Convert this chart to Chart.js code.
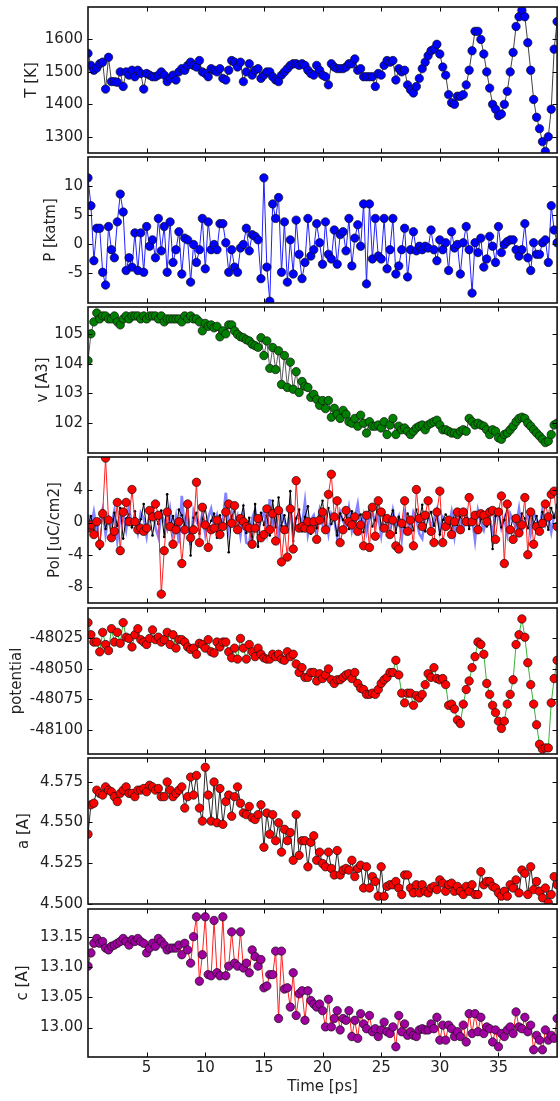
<!DOCTYPE html>
<html><head><meta charset="utf-8">
<script src="https://cdn.jsdelivr.net/npm/chart.js@4"></script>
<style>
html,body{margin:0;padding:0;background:#fff;overflow:hidden;}
#wrap{position:relative;width:560px;height:1101px;overflow:hidden;background:#fff;}
#wrap canvas{position:absolute;left:0;}
</style></head><body><div id="wrap"></div>
<script>
// ---------------- data ----------------
const time = [0,0.25,0.5,0.75,1,1.25,1.5,1.75,2,2.25,2.5,2.75,3,3.25,3.5,3.75,4,4.25,4.5,4.75,
5,5.25,5.5,5.75,6,6.25,6.5,6.75,7,7.25,7.5,7.75,8,8.25,8.5,8.75,9,9.25,9.5,9.75,
10,10.25,10.5,10.75,11,11.25,11.5,11.75,12,12.25,12.5,12.75,13,13.25,13.5,13.75,14,14.25,14.5,14.75,
15,15.25,15.5,15.75,16,16.25,16.5,16.75,17,17.25,17.5,17.75,18,18.25,18.5,18.75,19,19.25,19.5,19.75,
20,20.25,20.5,20.75,21,21.25,21.5,21.75,22,22.25,22.5,22.75,23,23.25,23.5,23.75,24,24.25,24.5,24.75,
25,25.25,25.5,25.75,26,26.25,26.5,26.75,27,27.25,27.5,27.75,28,28.25,28.5,28.75,29,29.25,29.5,29.75,
30,30.25,30.5,30.75,31,31.25,31.5,31.75,32,32.25,32.5,32.75,33,33.25,33.5,33.75,34,34.25,34.5,34.75,
35,35.25,35.5,35.75,36,36.25,36.5,36.75,37,37.25,37.5,37.75,38,38.25,38.5,38.75,39,39.25,39.5,39.75,
40];

const temperature = [1557,1520,1505,1512,1525,1530,1447,1545,1470,1470,
1468,1500,1455,1500,1490,1505,1485,1505,1495,1447,
1495,1490,1485,1485,1490,1500,1490,1470,1480,1490,
1475,1500,1510,1505,1520,1530,1520,1515,1535,1500,
1495,1485,1510,1505,1500,1510,1480,1475,1505,1535,
1530,1515,1530,1470,1500,1525,1490,1505,1510,1480,
1490,1500,1500,1485,1475,1470,1490,1500,1510,1520,
1525,1525,1520,1525,1520,1505,1495,1490,1520,1505,
1490,1485,1460,1525,1515,1510,1510,1510,1515,1525,
1525,1540,1505,1510,1485,1485,1485,1485,1455,1495,
1490,1520,1535,1530,1535,1475,1510,1500,1505,1460,
1445,1435,1455,1480,1510,1530,1550,1565,1570,1585,
1555,1515,1490,1430,1405,1400,1425,1425,1430,1460,
1505,1565,1625,1625,1600,1555,1500,1450,1400,1385,
1365,1370,1400,1440,1500,1560,1640,1670,1690,1670,
1590,1505,1415,1360,1325,1285,1255,1300,1385,1570,1655];

const pressure = [11.4,6.6,-2.9,2.7,2.7,-4.9,-7.1,3.0,-1.0,-2.4,
3.8,8.6,5.5,-4.6,-2.4,-4.0,1.9,-4.6,1.9,-4.9,
3.0,-0.4,0.7,-2.4,4.4,-1.2,3.0,-4.9,3.8,-3.2,
-1.0,2.1,-5.2,1.0,0.7,-6.6,-0.1,-3.2,-1.0,4.4,
-4.3,3.8,-1.0,-0.1,-1.0,3.5,3.5,0.2,-4.9,-1.0,
-4.0,-4.9,-0.7,-0.1,2.7,-1.2,1.6,1.3,0.7,-6.0,
11.4,-4.0,-9.9,6.9,4.4,8.0,-4.9,3.8,-6.6,0.7,
-5.2,4.1,-1.8,-6.0,-3.2,4.4,-2.1,-1.0,3.5,0.2,
-3.5,3.8,-1.8,-2.6,2.4,-3.5,1.6,2.1,-1.2,4.4,
-3.8,1.0,3.3,-0.4,6.9,-6.9,6.9,-2.6,4.4,-2.1,
-2.6,4.4,-4.3,-1.0,4.4,-5.2,-3.8,-1.0,2.7,-5.7,
-1.0,2.1,-1.2,-0.4,-1.0,-0.4,-0.7,2.4,-1.0,-2.9,
0.7,-1.0,0.2,-4.6,2.1,-0.7,-0.1,-5.2,0.2,3.0,
-1.0,-8.5,0.2,-1.5,1.0,-4.0,-2.6,1.3,-0.4,-3.2,
3.0,-1.5,-0.1,0.4,0.7,0.7,-1.0,-2.1,-1.0,3.5,
-2.4,-4.6,0.2,-1.8,-1.8,0.2,0.7,-3.2,6.6,2.4,0.2];

const volume = [104.1,105.0,105.4,105.7,105.5,105.6,105.6,105.5,105.5,105.6,
105.4,105.3,105.5,105.6,105.5,105.6,105.6,105.6,105.5,105.6,
105.5,105.6,105.6,105.6,105.5,105.6,105.4,105.5,105.5,105.5,
105.5,105.5,105.4,105.6,105.5,105.6,105.5,105.5,105.4,105.1,
105.35,105.25,105.3,105.2,105.25,104.9,105.1,105.0,105.3,105.3,
105.1,104.98,104.9,104.87,104.8,104.76,104.65,104.6,104.55,104.87,
104.27,104.76,103.84,104.54,103.8,104.43,103.3,104.27,103.2,104.05,
103.14,103.73,103.03,103.4,103.24,103.2,102.87,102.97,102.8,102.6,
102.76,102.49,102.76,102.2,102.5,102.3,102.16,102.43,102.3,102.05,
102.0,102.16,101.9,102.27,102.0,101.67,102.05,101.9,101.9,101.94,
101.84,102.05,101.62,101.94,102.16,101.62,101.9,101.78,101.84,101.73,
101.62,101.73,101.84,101.9,101.94,101.78,101.94,102.0,102.05,102.1,
101.94,101.78,101.78,101.73,101.67,101.67,101.62,101.73,101.78,101.73,
102.16,102.05,101.94,102.0,101.94,101.9,101.78,101.62,101.78,101.73,
101.51,101.46,101.62,101.67,101.78,101.9,102.05,102.16,102.2,102.16,
102.0,101.9,101.78,101.67,101.57,101.46,101.35,101.4,101.62,101.94,102.0];

const polX = [1.0,-0.6,1.3,-1.1,0.4,1.7,-1.5,0.7,-0.3,1.5,
-2.2,0.6,1.0,-0.9,1.8,-0.4,0.3,-1.3,1.2,0.5,
-1.7,0.9,1.9,-0.6,-1.8,1.1,0.2,-0.8,1.6,-1.4,
0.7,-2.6,3.3,-1.0,0.8,-2.8,1.4,0.2,-0.7,1.1,
-1.5,0.6,1.7,-0.4,0.9,-1.2,0.4,3.7,-0.8,1.3,
-0.3,0.8,-1.6,1.2,-2.5,-2.7,0.5,1.6,-0.9,0.3,
1.4,-1.1,2.9,-0.5,0.7,-1.8,1.2,0.1,-0.6,1.7,
-1.3,0.6,1.0,-0.4,2.6,-1.5,0.3,0.9,-0.8,1.5,
-0.2,0.7,-1.4,1.1,0.4,-1.9,1.3,0.2,-0.5,1.8,
-1.0,0.6,2.3,-0.7,0.9,-1.2,0.5,1.4,-0.3,0.8,
-1.6,1.0,0.3,-0.8,1.5,-0.4,0.7,-2.1,1.2,0.2,
-0.9,1.3,0.5,-1.4,-2.0,0.8,1.1,-0.6,0.4,1.6,
-1.1,0.7,0.2,-0.5,1.3,-1.7,0.9,0.3,-0.8,1.2,
-0.4,0.6,-2.2,1.5,0.1,-0.9,1.0,0.4,-1.3,0.8,
1.4,-0.7,0.5,-1.5,1.1,0.2,-0.6,1.7,-1.0,0.3,
0.9,-1.4,1.2,0.4,-0.8,1.6,-0.3,0.7,-1.2,1.0,0.5];

const polY = [-0.5,0.8,-1.2,0.3,-3.3,1.5,-0.8,0.6,-1.5,1.2,
-0.4,1.8,-2.0,0.5,1.0,-0.6,1.4,-1.0,0.4,2.3,
-0.9,1.1,-1.6,0.7,-0.2,1.5,-1.8,3.5,-0.5,0.8,
-1.2,1.6,0.9,-0.3,2.6,-4.1,0.6,1.2,-1.4,0.4,
1.8,-0.7,0.2,1.1,-1.9,0.9,-0.4,1.3,-3.7,0.8,
1.4,-0.6,0.3,2.1,-1.3,0.6,-2.4,2.3,-3.0,1.2,
-0.3,0.9,-1.6,2.7,-0.6,3.1,-0.4,0.9,-1.2,3.9,
-2.3,0.5,1.6,-1.1,0.7,2.0,-1.4,0.2,-0.7,1.3,
2.7,-0.9,1.8,-0.2,0.5,-1.6,1.1,0.3,0.9,-0.8,
1.4,-0.4,0.6,1.0,-1.2,0.8,1.7,-0.5,0.3,2.9,
-0.6,1.2,-0.9,0.4,1.5,-1.3,0.7,0.1,-0.6,1.1,
0.5,-1.0,1.6,0.2,2.2,-1.1,0.6,1.3,-0.4,0.9,
-1.5,0.3,1.0,0.5,-0.9,1.2,-0.3,0.7,0.1,1.4,
-0.8,0.6,1.1,-1.2,0.4,0.9,-0.5,1.3,-3.3,0.8,
1.5,-0.6,0.3,1.9,-1.0,0.7,0.2,-1.4,1.1,0.5,
-0.7,1.6,-0.2,0.8,-1.1,1.3,0.4,-0.9,1.8,0.6,2.2];

const polZ = [-0.7,-0.3,-1.5,0.1,-2.7,1.1,8.0,0.3,-1.9,-1.1,
2.5,-3.5,1.3,2.5,0.1,4.1,0.1,-0.9,-0.7,-1.1,
-0.7,1.5,0.7,2.3,0.9,-8.9,-3.5,1.3,-0.5,-2.7,
-0.9,0.1,-5.1,-0.9,2.3,-1.9,-0.9,5.0,-2.5,1.9,
-0.3,-3.1,-0.9,-0.7,0.3,-1.5,-0.5,1.3,2.3,-0.1,
2.1,-0.9,0.5,0.1,-0.5,-0.7,-2.7,-0.7,0.5,-1.9,
-1.5,1.7,-0.9,1.1,-2.3,1.5,-4.9,-0.9,-4.3,1.7,
-3.3,5.2,-0.7,-0.5,-0.7,0.1,-0.9,0.1,-2.1,0.3,
1.3,-0.9,3.5,6.0,0.7,2.7,-2.5,-0.9,1.5,0.1,
-0.3,0.7,-1.1,-0.3,-2.9,0.9,-3.1,1.9,-1.7,2.7,
1.3,-0.7,0.5,-1.5,0.3,-2.9,-3.3,-0.1,2.7,-1.1,
0.3,-2.9,4.1,0.5,-0.5,0.9,2.7,-1.1,-2.5,1.3,
3.9,-2.5,-0.5,0.3,-1.5,0.1,1.3,-0.9,1.3,0.1,
3.1,0.1,0.9,-0.9,1.1,0.9,0.1,1.3,1.5,-2.1,
1.3,3.3,-5.1,2.3,-0.9,-2.1,0.5,-1.3,-0.3,3.1,
-4.0,1.3,-2.7,-0.5,-1.1,-0.1,2.3,0.7,3.5,3.9,-0.5];

const potential = [-48012,-48022,-48028,-48028,-48036,-48020,-48030,-48035,-48017,-48028,
-48020,-48029,-48012,-48024,-48025,-48032,-48022,-48017,-48026,-48028,
-48030,-48025,-48018,-48026,-48024,-48028,-48026,-48020,-48030,-48022,
-48033,-48026,-48026,-48028,-48032,-48034,-48033,-48038,-48029,-48030,
-48033,-48026,-48036,-48037,-48028,-48032,-48028,-48028,-48036,-48041,
-48033,-48042,-48025,-48033,-48042,-48030,-48036,-48040,-48033,-48038,
-48041,-48042,-48042,-48038,-48040,-48038,-48042,-48043,-48036,-48040,
-48038,-48046,-48053,-48049,-48057,-48057,-48053,-48053,-48060,-48054,
-48058,-48055,-48050,-48059,-48062,-48059,-48059,-48057,-48055,-48054,
-48058,-48053,-48062,-48066,-48067,-48071,-48071,-48070,-48071,-48067,
-48062,-48059,-48057,-48053,-48053,-48043,-48055,-48070,-48078,-48070,
-48070,-48080,-48072,-48074,-48071,-48063,-48054,-48057,-48049,-48058,
-48059,-48058,-48063,-48080,-48079,-48083,-48092,-48095,-48079,-48067,
-48060,-48049,-48040,-48028,-48030,-48038,-48062,-48071,-48080,-48086,
-48093,-48099,-48093,-48079,-48071,-48059,-48030,-48022,-48009,-48024,
-48045,-48063,-48079,-48096,-48112,-48116,-48115,-48115,-48078,-48058,-48043];

const latticeA = [4.5428,4.5608,4.5618,4.5698,4.5678,4.5668,4.5718,4.5698,4.5688,4.5658,
4.5628,4.5678,4.5698,4.5718,4.5678,4.5678,4.5658,4.5698,4.5698,4.5708,
4.5688,4.5728,4.5718,4.5698,4.5708,4.5658,4.5658,4.5748,4.5698,4.5658,
4.5678,4.5698,4.5718,4.5588,4.5658,4.5778,4.5668,4.5788,4.5588,4.5508,
4.5838,4.5668,4.5508,4.5748,4.5498,4.5708,4.5488,4.5628,4.5668,4.5538,
4.5658,4.5718,4.5618,4.5558,4.5548,4.5598,4.5528,4.5518,4.5548,4.5608,
4.5348,4.5558,4.5428,4.5548,4.5388,4.5498,4.5318,4.5458,4.5388,4.5438,
4.5268,4.5548,4.5298,4.5388,4.5388,4.5228,4.5378,4.5418,4.5268,4.5318,
4.5248,4.5228,4.5318,4.5218,4.5178,4.5328,4.5178,4.5208,4.5218,4.5208,
4.5268,4.5168,4.5218,4.5238,4.5098,4.5228,4.5098,4.5168,4.5138,4.5048,
4.5228,4.5048,4.5108,4.5118,4.5118,4.5138,4.5098,4.5058,4.5178,4.5178,
4.5098,4.5068,4.5118,4.5068,4.5118,4.5078,4.5068,4.5098,4.5108,4.5088,
4.5148,4.5128,4.5078,4.5118,4.5128,4.5078,4.5108,4.5078,4.5058,4.5108,
4.5078,4.5118,4.5058,4.5058,4.5198,4.5118,4.5138,4.5138,4.5108,4.5098,
4.5068,4.5048,4.5078,4.5048,4.5118,4.5098,4.5148,4.5068,4.5208,4.5188,
4.5058,4.5228,4.5088,4.5138,4.5078,4.5038,4.5098,4.5008,4.5058,4.5168,4.5118];

const latticeC = [13.102,13.124,13.140,13.148,13.140,13.143,13.132,13.129,13.135,13.137,
13.140,13.143,13.148,13.143,13.137,13.146,13.143,13.148,13.143,13.140,
13.124,13.132,13.140,13.135,13.148,13.143,13.137,13.129,13.132,13.132,
13.132,13.137,13.121,13.140,13.129,13.107,13.151,13.184,13.077,13.121,
13.184,13.088,13.086,13.178,13.091,13.086,13.184,13.086,13.102,13.159,
13.107,13.102,13.159,13.099,13.107,13.091,13.129,13.118,13.102,13.113,
13.066,13.069,13.088,13.088,13.127,13.015,13.127,13.064,13.066,13.034,
13.091,13.020,13.056,13.061,13.012,13.061,13.045,13.039,13.034,13.039,
13.028,13.001,13.047,13.001,13.015,13.028,12.996,13.015,13.012,13.028,
12.985,13.012,12.982,13.023,13.006,12.998,13.020,12.993,12.998,12.985,
12.996,13.009,12.993,12.990,13.001,12.968,13.020,12.993,13.006,12.987,
12.993,12.987,12.985,12.996,12.998,12.996,12.996,13.006,12.998,13.017,
12.979,13.004,12.979,13.004,12.998,12.985,12.993,12.985,13.004,12.976,
13.023,12.990,13.023,12.993,13.017,12.990,13.001,12.998,12.976,12.996,
12.968,12.990,12.985,12.996,13.001,12.990,13.026,13.001,12.998,13.017,
12.993,13.004,12.963,12.987,12.979,12.963,12.996,12.979,12.987,12.982,13.015];

// tick values
const timeTicks = [5,10,15,20,25,30,35];
const tempTicks = [1300,1400,1500,1600];
const presTicks = [-5,0,5,10];
const volTicks = [102,103,104,105];
const polTicks = [-8,-4,0,4];
const potTicks = [-48100,-48075,-48050,-48025];
const aTicks = [4.500,4.525,4.550,4.575];
const cTicks = [13.00,13.05,13.10,13.15];

// ---------------- rendering ----------------
Chart.defaults.font.family = 'DejaVu Sans';
const FONT = {family:'DejaVu Sans', size:15};
const TXT = '#222';
const CW = 562;

function pts(vals){ const out=[]; for(let i=0;i<vals.length && i<time.length;i++) out.push({x:time[i], y:vals[i]}); return out; }

function markerSet(vals, lineColor, lineW, fillColor, order){
  return {data:pts(vals), borderColor:lineColor, borderWidth:lineW, pointRadius:4.2,
    pointBackgroundColor:fillColor, pointBorderColor:'#111', pointBorderWidth:0.7,
    pointHoverRadius:4.2, tension:0, order:order||0};
}

const panels = [
  {top:5, title:'T [K]', pad:23, min:1250, max:1700, ticks:tempTicks, fmt:v=>String(v),
   sets:[markerSet(temperature,'#111',0.8,'#0000ff')]},
  {top:155, title:'P [katm]', pad:42, min:-10.2, max:15, ticks:presTicks, fmt:v=>String(v),
   sets:[markerSet(pressure,'#2020ff',1,'#0000ff')]},
  {top:305, title:'v [A3]', pad:34, min:101.0, max:105.9, ticks:volTicks, fmt:v=>String(v),
   sets:[markerSet(volume,'#333',0.8,'#008000')]},
  {top:455, title:'Pol [uC/cm2]', pad:46, min:-10, max:8.14, ticks:polTicks, fmt:v=>String(v),
   sets:[markerSet(polZ,'#ff2020',1,'#ff0000',0),
         {data:pts(polY), borderColor:'#000', borderWidth:1, pointRadius:1.3, pointBackgroundColor:'#000', pointBorderWidth:0, order:1},
         {data:pts(polX), borderColor:'rgba(30,30,255,0.55)', borderWidth:2.6, pointRadius:0, order:2}]},
  {top:606, title:'potential', pad:8.5, min:-48120, max:-48000, ticks:potTicks, fmt:v=>String(v),
   sets:[markerSet(potential,'#22aa22',0.9,'#ff0000')]},
  {top:756, title:'a [A]', pad:15, min:4.5, max:4.5895, ticks:aTicks, fmt:v=>v.toFixed(3),
   sets:[markerSet(latticeA,'#111',0.9,'#ff0000')]},
  {top:907, title:'c [A]', pad:14, min:12.951, max:13.197, ticks:cTicks, fmt:v=>v.toFixed(2),
   sets:[markerSet(latticeC,'#ff2020',1,'#a000a0')]}
];

const wrap = document.getElementById('wrap');
const EXTRA = 12, PH = 150;

panels.forEach((p, idx) => {
  const last = idx === panels.length - 1;
  const cv = document.createElement('canvas');
  const top = p.top - EXTRA;
  const h = last ? (1101 - top) : (PH + 2*EXTRA);
  cv.width = CW; cv.height = h;
  cv.style.width = CW + 'px'; cv.style.height = h + 'px';
  cv.style.top = top + 'px';
  wrap.appendChild(cv);

  const frame = {
    id:'frame'+idx,
    afterDraw(chart){
      const {ctx, chartArea:a, scales:{x, y}} = chart;
      ctx.save();
      ctx.strokeStyle = '#000';
      ctx.lineWidth = 1;
      ctx.beginPath();
      timeTicks.forEach(v => {
        const px = Math.round(x.getPixelForValue(v)) + 0.5;
        ctx.moveTo(px, a.top); ctx.lineTo(px, a.top + 4.5);
        ctx.moveTo(px, a.bottom); ctx.lineTo(px, a.bottom - 4.5);
      });
      p.ticks.forEach(v => {
        const py = Math.round(y.getPixelForValue(v)) + 0.5;
        ctx.moveTo(a.left, py); ctx.lineTo(a.left + 4.5, py);
        ctx.moveTo(a.right, py); ctx.lineTo(a.right - 4.5, py);
      });
      ctx.stroke();
      ctx.lineWidth = 1.6;
      ctx.strokeStyle = '#111';
      ctx.strokeRect(a.left, a.top, a.right - a.left, a.bottom - a.top);
      ctx.restore();
    }
  };

  new Chart(cv, {
    type:'line',
    data:{datasets:p.sets},
    options:{
      responsive:false, animation:false, events:[],
      layout:{padding:{top:EXTRA, bottom: last ? 0 : EXTRA, left:0, right:1}},
      plugins:{legend:{display:false}, tooltip:{enabled:false}},
      scales:{
        x:{type:'linear', min:0, max:40, display:last,
           afterBuildTicks:s => { s.ticks = timeTicks.map(v => ({value:v})); },
           afterFit:s => { s.height = last ? 44 : 0; },
           ticks:{font:FONT, color:TXT, padding:2, maxRotation:0, autoSkip:false, callback:v => String(v)},
           grid:{display:false, drawTicks:false}, border:{display:false},
           title:{display:last, text:'Time [ps]', font:FONT, color:TXT, padding:{top:0, bottom:5}}},
        y:{type:'linear', min:p.min, max:p.max,
           afterBuildTicks:s => { s.ticks = p.ticks.map(v => ({value:v})); },
           afterFit:s => { s.width = 88; },
           ticks:{font:FONT, color:TXT, padding:5, autoSkip:false, callback:v => p.fmt(v)},
           grid:{display:false, drawTicks:false}, border:{display:false},
           title:{display:true, text:p.title, font:FONT, color:TXT, padding:{top:p.pad, bottom:0}}}
      }
    },
    plugins:[frame]
  });
});
</script></body></html>
